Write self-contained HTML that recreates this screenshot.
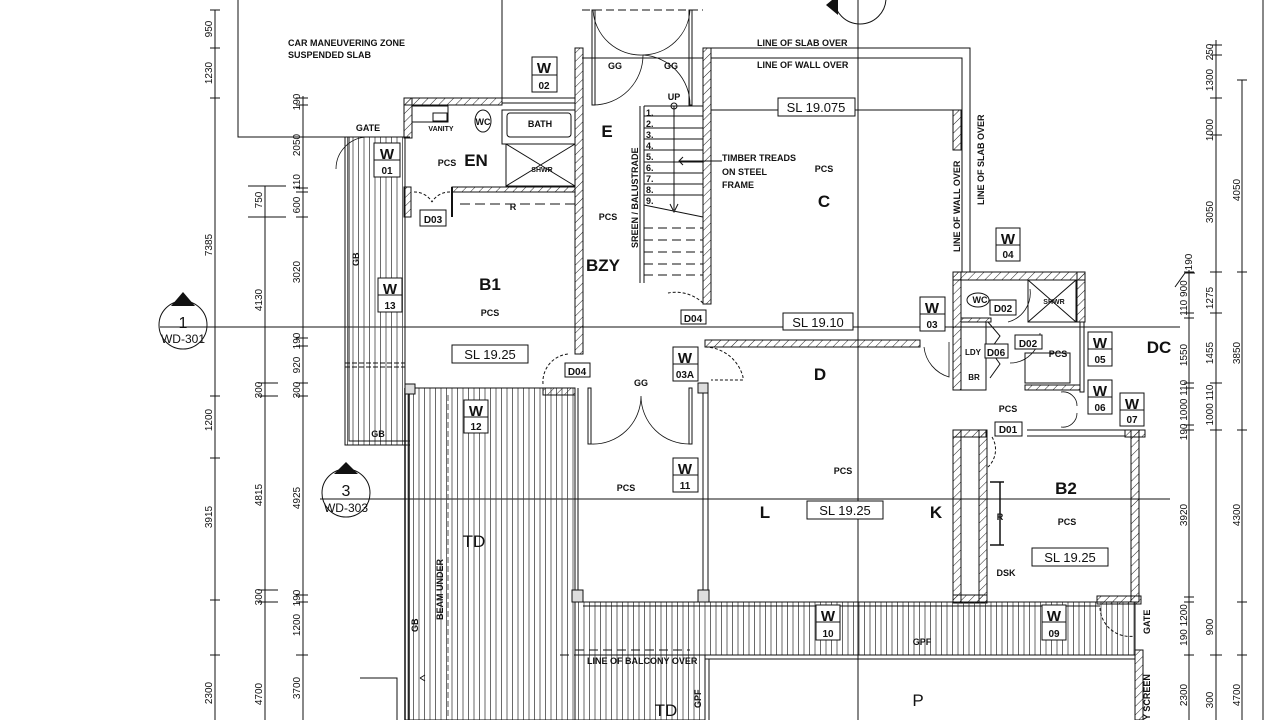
<!DOCTYPE html>
<html><head><meta charset="utf-8"><style>
html,body{margin:0;padding:0;background:#fff;}
svg{display:block;}
text{font-family:"Liberation Sans",sans-serif;fill:#111;}
.b{font-weight:bold;}
.d{font-size:10px;}
</style></head><body>
<svg width="1280" height="720" viewBox="0 0 1280 720" xmlns="http://www.w3.org/2000/svg">
<defs>
<pattern id="h" width="6" height="6" patternUnits="userSpaceOnUse" patternTransform="rotate(45)"><line x1="0" y1="0" x2="0" y2="6" stroke="#222" stroke-width="1"/></pattern>
<pattern id="dk" width="5.5" height="10" patternUnits="userSpaceOnUse"><line x1="1" y1="0" x2="1" y2="10" stroke="#444" stroke-width="0.8"/></pattern>
</defs>
<g fill="none" stroke="#111" stroke-width="1">
<!-- dimension lines left -->
<line x1="215" y1="10" x2="215" y2="720"/>
<line x1="265" y1="186" x2="265" y2="720"/>
<line x1="303" y1="96" x2="303" y2="720"/>
<g stroke-width="1">
<path d="M210 10h10M210 48h10M210 98h10M210 396h10M210 458h10M210 600h10M210 655h10"/>
<path d="M248 186h38M248 217h38M258 383h20M258 396h20M258 590h20M258 602h20"/>
<path d="M296 98h12M296 105h12M296 188h12M296 192h12M296 217h12M296 338h12M296 346h12M296 383h12M296 396h12M296 595h12M296 602h12M296 655h12"/>
</g>
<!-- dimension lines right -->
<line x1="1189" y1="270" x2="1189" y2="720"/>
<line x1="1216" y1="40" x2="1216" y2="720"/>
<line x1="1242" y1="80" x2="1242" y2="720"/>
<line x1="1263" y1="0" x2="1263" y2="720"/>
<path d="M1210 45h12M1210 55h12M1210 98h12M1210 135h12M1210 272h12M1184 272h10M1184 313h10M1184 318h10M1184 383h10M1184 388h10M1184 425h10M1184 430h10M1210 313h12M1210 383h12M1210 430h12M1237 80h10M1237 272h10M1237 430h10M1184 597h10M1184 602h10M1210 655h12M1237 602h10M1237 655h10M1184 655h10"/>
<path d="M1175 287l10 -14h10"/>
<!-- top-left boundary -->
<path d="M238 0V137H410"/>
<path d="M502 0V98"/>
<!-- EN room walls -->
<rect x="404" y="98" width="98" height="7" fill="url(#h)"/>
<rect x="404" y="98" width="8" height="40" fill="url(#h)"/>
<rect x="404" y="187" width="7" height="30" fill="url(#h)"/>
<path d="M502 98H575M502 103H575"/>
<rect x="412" y="106" width="36" height="16"/><rect x="433" y="113" width="14" height="8"/>
<ellipse cx="483" cy="121" rx="8" ry="11"/>
<rect x="502" y="110" width="73" height="34"/><rect x="507" y="113" width="64" height="24" rx="3"/>
<rect x="506" y="144" width="69" height="42"/><path d="M506 144L575 186M575 144L506 186"/>
<rect x="452" y="187" width="123" height="5" fill="url(#h)"/>
<path d="M452 187v30" stroke-width="2"/>
<path d="M414 192a20 20 0 0 1 18 10M450 192a20 20 0 0 0 -18 10" stroke-dasharray="3 2"/>
<path d="M460 204H575" stroke-dasharray="10 5"/>
<!-- BZY/E walls -->
<rect x="575" y="48" width="8" height="306" fill="url(#h)"/>
<rect x="703" y="48" width="8" height="256" fill="url(#h)"/>
<!-- top GG doors -->
<path d="M582 58H703" />
<path d="M582 10H703" stroke-dasharray="8 4"/>
<rect x="592" y="10" width="3" height="95"/><rect x="689" y="10" width="3" height="95"/>
<path d="M593 105A50 50 0 0 0 643 55A50 50 0 0 1 690 105" stroke-width="0.8"/>
<path d="M643 55A48 48 0 0 1 593 10M643 55A48 48 0 0 0 690 10" stroke-width="0.8"/>
<!-- stair -->
<path d="M640 106V283M644 106V283"/>
<path d="M644 106H703M644 116H703M644 128H703M644 139H703M644 150H703M644 162H703M644 173H703M644 184H703M644 195H703M644 205L703 217"/>
<path d="M644 228H703M644 240H703M644 252H703M644 264H703M644 275H703" stroke-dasharray="9 5"/>
<path d="M674 106V210M670 204l4 8l4-8"/>
<circle cx="674" cy="106" r="3"/>
<path d="M683 157l-4 4l4 4M679 161H722"/>
<!-- C area -->
<path d="M711 48H970V272M711 58H962V272"/>
<rect x="953" y="110" width="8" height="40" fill="url(#h)"/>
<path d="M711 110H953"/>
<!-- section lines -->
<line x1="160" y1="327" x2="1180" y2="327"/>
<line x1="320" y1="499" x2="1170" y2="499"/>
<line x1="858" y1="0" x2="858" y2="720"/>
<!-- D wall -->
<rect x="705" y="340" width="215" height="7" fill="url(#h)"/>
<path d="M703 303a40 40 0 0 0 -35 -10" stroke-dasharray="3 2"/>
<path d="M705 347a40 40 0 0 1 38 30v3h-32" stroke-dasharray="3 2"/>
<!-- service block -->
<rect x="953" y="272" width="132" height="8" fill="url(#h)"/>
<rect x="953" y="272" width="8" height="118" fill="url(#h)"/>
<rect x="1077" y="272" width="8" height="50" fill="url(#h)"/>
<rect x="1028" y="280" width="48" height="42"/><path d="M1028 280L1076 322M1076 280L1028 322"/>
<ellipse cx="978" cy="300" rx="11" ry="7"/>
<rect x="961" y="318" width="30" height="4" fill="url(#h)"/>
<rect x="1025" y="353" width="45" height="30"/>
<rect x="1025" y="385" width="55" height="5" fill="url(#h)"/>
<rect x="1080" y="322" width="4" height="70"/>
<rect x="961" y="322" width="25" height="68"/>
<path d="M988 322l12 14l-10 14l10 14l-10 14"/>
<path d="M1030 289a30 30 0 0 1 -22 33" stroke-width="0.8"/>
<path d="M1040 333a30 30 0 0 1 -30 30" stroke-width="0.8"/>
<path d="M924 347a35 35 0 0 0 25 30v-35" stroke-width="0.8"/>
<path d="M1061 392a14 14 0 0 1 16 14M1061 427a14 14 0 0 0 16 -14" stroke-width="0.8"/>
<!-- B2 -->
<rect x="953" y="430" width="33" height="7" fill="url(#h)"/>
<rect x="979" y="430" width="8" height="172" fill="url(#h)"/>
<rect x="953" y="430" width="8" height="172" fill="url(#h)"/>
<rect x="1131" y="430" width="8" height="172" fill="url(#h)"/>
<rect x="1125" y="430" width="20" height="7" fill="url(#h)"/>
<path d="M1027 430H1125M1027 436H1125"/>
<path d="M992 437a24 24 0 0 1 -4 30" stroke-dasharray="3 2"/>
<path d="M990 482h14M990 545h14M1000 482V545" stroke-width="1.5"/>
<rect x="953" y="595" width="34" height="8" fill="url(#h)"/>
<!-- GB strip left -->
<rect x="345" y="137" width="60" height="308" fill="url(#dk)"/>
<path d="M345 137V445H410M349 137V441H410"/>
<!-- TD deck -->
<rect x="405" y="388" width="170" height="332" fill="url(#dk)"/>
<rect x="575" y="602" width="560" height="53" fill="url(#dk)"/>
<rect x="575" y="655" width="130" height="65" fill="url(#dk)"/>
<path d="M405 388V720M409 388V720" stroke-width="1.5"/>
<path d="M412 388H550" />
<rect x="543" y="388" width="32" height="7" fill="url(#h)"/>
<path d="M448 395V720" stroke-dasharray="6 3" stroke="#555"/>
<path d="M543 384a28 28 0 0 1 25 -30" stroke-dasharray="3 2"/>
<path d="M345 363H405M345 367H405" stroke-dasharray="5 2"/>
<rect x="405" y="384" width="10" height="10" fill="#ddd"/>
<!-- GG centre doors -->
<rect x="588" y="388" width="3" height="56"/><rect x="689" y="388" width="3" height="56"/>
<path d="M591 444A48 48 0 0 0 641 396A48 48 0 0 0 690 444" stroke-width="0.8"/>
<path d="M703 388V602M708 388V602"/>
<path d="M578 388V602"/>
<rect x="698" y="383" width="10" height="10" fill="#ddd"/>
<rect x="572" y="590" width="11" height="12" fill="#ddd"/>
<rect x="698" y="590" width="11" height="12" fill="#ddd"/>
<path d="M583 602H1100M583 606H1100"/>
<path d="M705 655H1135M705 659H1135M705 655V720M709 659V720"/>
<rect x="1097" y="596" width="44" height="8" fill="url(#h)"/>
<rect x="1135" y="650" width="8" height="70" fill="url(#h)"/>
<path d="M1100 608a30 30 0 0 0 35 28" stroke-dasharray="3 2"/>
<path d="M560 655H575" stroke-dasharray="9 5"/>
<path d="M575 650H690" stroke-dasharray="9 5"/>
<path d="M360 678H397V720M420 678l5 -3M420 678l5 3"/>
<path d="M368 137a32 32 0 0 0 -32 32" stroke-width="0.8"/>
<!-- section markers -->
<circle cx="183" cy="325" r="24"/>
<circle cx="346" cy="493" r="24"/>
<circle cx="860" cy="-2" r="26"/>
</g>
<polygon points="171,306 183,292 195,306" fill="#111"/>
<polygon points="334,474 346,462 358,474" fill="#111"/>
<polygon points="826,5 838,-5 838,15" fill="#111"/>
<!-- W tags -->
<g fill="#fff" stroke="#111" stroke-width="1">
<rect x="532" y="57" width="25" height="35"/><rect x="374" y="143" width="26" height="34"/><rect x="378" y="278" width="24" height="34"/><rect x="464" y="400" width="24" height="33"/><rect x="673" y="458" width="25" height="34"/><rect x="673" y="347" width="25" height="34"/><rect x="920" y="297" width="25" height="34"/><rect x="996" y="228" width="24" height="33"/><rect x="1088" y="332" width="24" height="34"/><rect x="1088" y="380" width="24" height="34"/><rect x="1120" y="393" width="24" height="33"/><rect x="816" y="605" width="24" height="35"/><rect x="1042" y="605" width="24" height="35"/>
<path d="M532 75h25M374 160h26M378 295h24M464 417h24M673 475h25M673 364h25M920 314h25M996 245h24M1088 349h24M1088 397h24M1120 410h24M816 622h24M1042 622h24"/>
<rect x="778" y="98" width="77" height="18"/><rect x="783" y="313" width="70" height="17"/><rect x="452" y="345" width="76" height="18"/><rect x="807" y="501" width="76" height="18"/><rect x="1032" y="548" width="76" height="18"/>
<rect x="420" y="210" width="26" height="16"/><rect x="681" y="310" width="25" height="14"/><rect x="565" y="363" width="25" height="14"/><rect x="990" y="300" width="26" height="15"/><rect x="1015" y="335" width="27" height="14"/><rect x="985" y="344" width="23" height="14"/><rect x="995" y="422" width="27" height="14"/>
</g>
<g class="b" font-size="15" text-anchor="middle">
<text x="544" y="73">W</text><text x="387" y="159">W</text><text x="390" y="294">W</text><text x="476" y="416">W</text><text x="685" y="474">W</text><text x="685" y="363">W</text><text x="932" y="313">W</text><text x="1008" y="244">W</text><text x="1100" y="348">W</text><text x="1100" y="396">W</text><text x="1132" y="409">W</text><text x="828" y="621">W</text><text x="1054" y="621">W</text>
</g>
<g class="b" font-size="10" text-anchor="middle">
<text x="544" y="89">02</text><text x="387" y="174">01</text><text x="390" y="309">13</text><text x="476" y="430">12</text><text x="685" y="489">11</text><text x="685" y="378">03A</text><text x="932" y="328">03</text><text x="1008" y="258">04</text><text x="1100" y="363">05</text><text x="1100" y="411">06</text><text x="1132" y="423">07</text><text x="828" y="637">10</text><text x="1054" y="637">09</text>
<text x="433" y="223">D03</text><text x="693" y="322">D04</text><text x="577" y="375">D04</text><text x="1003" y="312">D02</text><text x="1028" y="347">D02</text><text x="996" y="356">D06</text><text x="1008" y="433">D01</text>
</g>
<g font-size="13" text-anchor="middle">
<text x="816" y="112">SL 19.075</text><text x="818" y="327">SL 19.10</text><text x="490" y="359">SL 19.25</text><text x="845" y="515">SL 19.25</text><text x="1070" y="562">SL 19.25</text>
</g>
<g class="b" text-anchor="middle" font-size="17">
<text x="476" y="166">EN</text><text x="607" y="137">E</text><text x="603" y="271">BZY</text><text x="490" y="290">B1</text><text x="824" y="207">C</text><text x="820" y="380">D</text><text x="765" y="518">L</text><text x="936" y="518">K</text><text x="1066" y="494">B2</text><text x="1159" y="353">DC</text>
</g>
<g text-anchor="middle" font-size="17"><text x="474" y="547">TD</text><text x="666" y="716">TD</text><text x="918" y="706">P</text></g>
<g class="b" text-anchor="middle" font-size="9">
<text x="447" y="166">PCS</text><text x="608" y="220">PCS</text><text x="490" y="316">PCS</text><text x="824" y="172">PCS</text><text x="626" y="491">PCS</text><text x="843" y="474">PCS</text><text x="1058" y="357">PCS</text><text x="1008" y="412">PCS</text><text x="1067" y="525">PCS</text>
<text x="615" y="69">GG</text><text x="671" y="69">GG</text><text x="641" y="386">GG</text><text x="483" y="125">WC</text><text x="540" y="127">BATH</text><text x="513" y="210">R</text><text x="674" y="100">UP</text>
<text x="980" y="303">WC</text><text x="973" y="355" font-size="8">LDY</text><text x="974" y="380" font-size="8">BR</text><text x="1000" y="520">R</text><text x="1006" y="576">DSK</text>
<text x="368" y="131">GATE</text><text x="378" y="437">GB</text><text x="922" y="645">GPF</text>
</g>
<g class="b" font-size="7" text-anchor="middle"><text x="441" y="131">VANITY</text><text x="542" y="172">SHWR</text><text x="1054" y="304">SHWR</text></g>
<g class="b" font-size="9">
<text x="288" y="46">CAR MANEUVERING ZONE</text><text x="288" y="58">SUSPENDED SLAB</text>
<text x="757" y="46">LINE OF SLAB OVER</text><text x="757" y="68">LINE OF WALL OVER</text>
<text x="722" y="161">TIMBER TREADS</text><text x="722" y="175">ON STEEL</text><text x="722" y="188">FRAME</text>
<text x="587" y="664">LINE OF BALCONY OVER</text>
<text x="646" y="116">1.</text><text x="646" y="127">2.</text><text x="646" y="138">3.</text><text x="646" y="149">4.</text><text x="646" y="160">5.</text><text x="646" y="171">6.</text><text x="646" y="182">7.</text><text x="646" y="193">8.</text><text x="646" y="204">9.</text>
<text transform="translate(638,248) rotate(-90)">SREEN / BALUSTRADE</text>
<text transform="translate(960,252) rotate(-90)">LINE OF WALL OVER</text>
<text transform="translate(984,205) rotate(-90)">LINE OF SLAB OVER</text>
<text transform="translate(359,266) rotate(-90)">GB</text>
<text transform="translate(443,620) rotate(-90)">BEAM UNDER</text>
<text transform="translate(418,632) rotate(-90)">GB</text>
<text transform="translate(701,708) rotate(-90)">GPF</text>
<text transform="translate(1150,634) rotate(-90)">GATE</text>
<text transform="translate(1150,720) rotate(-90)">Y SCREEN</text>
</g>
<g font-size="16" text-anchor="middle"><text x="183" y="328">1</text><text x="346" y="496">3</text></g>
<g font-size="12" text-anchor="middle"><text x="183" y="343">WD-301</text><text x="346" y="512">WD-303</text></g>
<g class="d" text-anchor="middle">
<text transform="translate(212,29) rotate(-90)">950</text><text transform="translate(212,73) rotate(-90)">1230</text><text transform="translate(212,245) rotate(-90)">7385</text><text transform="translate(212,420) rotate(-90)">1200</text><text transform="translate(212,517) rotate(-90)">3915</text><text transform="translate(212,693) rotate(-90)">2300</text>
<text transform="translate(262,200) rotate(-90)">750</text><text transform="translate(262,300) rotate(-90)">4130</text><text transform="translate(262,390) rotate(-90)">300</text><text transform="translate(262,495) rotate(-90)">4815</text><text transform="translate(262,597) rotate(-90)">300</text><text transform="translate(262,694) rotate(-90)">4700</text>
<text transform="translate(300,102) rotate(-90)">190</text><text transform="translate(300,145) rotate(-90)">2050</text><text transform="translate(300,182) rotate(-90)">110</text><text transform="translate(300,205) rotate(-90)">600</text><text transform="translate(300,272) rotate(-90)">3020</text><text transform="translate(300,341) rotate(-90)">190</text><text transform="translate(300,365) rotate(-90)">920</text><text transform="translate(300,390) rotate(-90)">300</text><text transform="translate(300,498) rotate(-90)">4925</text><text transform="translate(300,598) rotate(-90)">190</text><text transform="translate(300,625) rotate(-90)">1200</text><text transform="translate(300,688) rotate(-90)">3700</text>
<text transform="translate(1213,52) rotate(-90)">250</text><text transform="translate(1213,80) rotate(-90)">1300</text><text transform="translate(1213,130) rotate(-90)">1000</text><text transform="translate(1213,212) rotate(-90)">3050</text><text transform="translate(1240,190) rotate(-90)">4050</text><text transform="translate(1192,262) rotate(-90)">190</text>
<text transform="translate(1187,298) rotate(-90)">110 900</text><text transform="translate(1187,355) rotate(-90)">1550</text><text transform="translate(1187,410) rotate(-90)">190 1000 110</text><text transform="translate(1187,515) rotate(-90)">3920</text><text transform="translate(1187,625) rotate(-90)">190 1200</text><text transform="translate(1187,695) rotate(-90)">2300</text>
<text transform="translate(1213,298) rotate(-90)">1275</text><text transform="translate(1213,353) rotate(-90)">1455</text><text transform="translate(1213,405) rotate(-90)">1000 110</text><text transform="translate(1213,627) rotate(-90)">900</text><text transform="translate(1213,700) rotate(-90)">300</text>
<text transform="translate(1240,353) rotate(-90)">3850</text><text transform="translate(1240,515) rotate(-90)">4300</text><text transform="translate(1240,695) rotate(-90)">4700</text>
</g>
</svg>
</body></html>
